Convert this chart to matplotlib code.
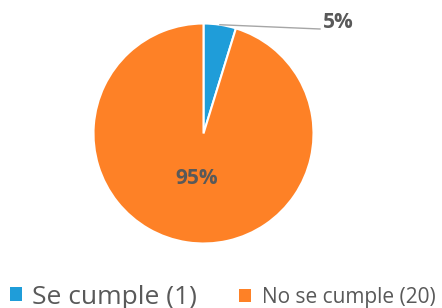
import numpy as np
import matplotlib
matplotlib.use("Agg")
import matplotlib.pyplot as plt

categories = ["Se cumple (1)", "No se cumple (20)"]
values = [1, 20]
colors = ["#1F9DD9", "#FE8126"]

plt.rcParams['font.family'] = ['Open Sans', 'DejaVu Sans']
TXT = "#595959"

W, H = 442, 308
fig = plt.figure(figsize=(W / 100, H / 100), dpi=100)
ax = fig.add_axes([0, 0, 1, 1])

cx, cy, r = 203.5, H - 133.5, 110
wedges, texts, autotexts = ax.pie(
    values, colors=colors, startangle=90, counterclock=False,
    center=(cx, cy), radius=r, autopct=lambda p: f"{p:.0f}%",
    pctdistance=0.41, wedgeprops=dict(edgecolor="white", linewidth=1.5),
    textprops=dict(color=TXT, fontsize=15, fontweight='bold'), frame=True)
ax.set_xlim(0, W)
ax.set_ylim(0, H)
ax.axis('off')

# outside label for small slice with leader line
w0 = wedges[0]
mid = np.deg2rad((w0.theta1 + w0.theta2) / 2)
sx, sy = cx + r * np.cos(mid), cy + r * np.sin(mid)
ex, ey = 320, H - 29
ax.plot([sx, ex], [sy, ey], color="#A6A6A6", lw=1)
autotexts[0].set_position((323, H - 22))
autotexts[0].set_ha('left')
autotexts[0].set_va('center')

leg1 = fig.legend([wedges[0]], [categories[0]], loc='center left',
                  bbox_to_anchor=(10 / W, 11 / H), frameon=False, borderpad=0,
                  borderaxespad=0,
                  handlelength=0.45, handleheight=0.45, handletextpad=0.4,
                  prop=dict(size=19, family='Open Sans'), labelcolor=TXT)
for p in leg1.get_patches():
    p.set_edgecolor('none')
leg2 = fig.legend([wedges[1]], [categories[1]], loc='center left',
                  bbox_to_anchor=(239 / W, 11 / H), frameon=False, borderpad=0,
                  borderaxespad=0,
                  handlelength=0.6, handleheight=0.6, handletextpad=0.5,
                  prop=dict(size=15, family='Open Sans'), labelcolor=TXT)
for p in leg2.get_patches():
    p.set_edgecolor('none')

fig.savefig("out.png", dpi=100)
